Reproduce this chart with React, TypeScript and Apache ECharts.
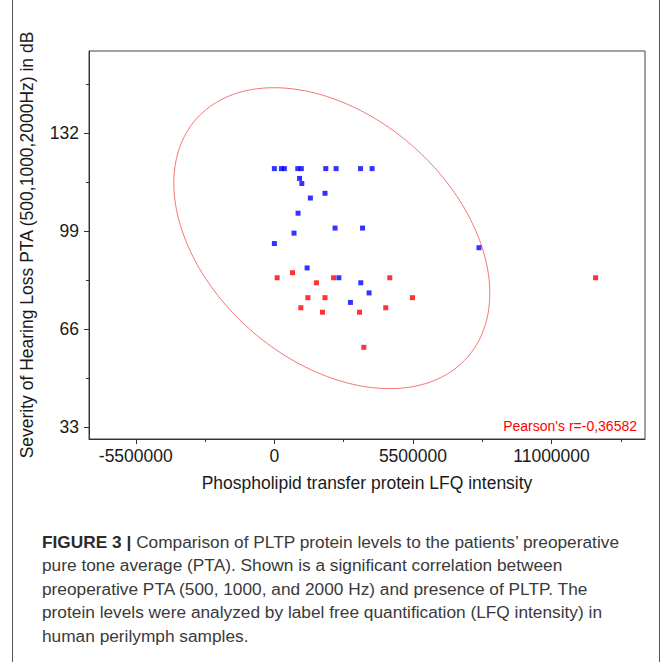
import { useEffect, useRef } from "react";
import * as echarts from "echarts";

// Axis ticks / labels
const xTickValues = [-5500000, 0, 5500000, 11000000];
const xMinorTickValues = [-2750000, 2750000, 8250000, 13750000];
const yTickValues = [33, 66, 99, 132];
const yMinorTickValues = [49.5, 82.5, 115.5, 148.5];
const xRange = [-7357000, 14710000];
const yRange = [29.07, 159.55];

// Blue group (LFQ intensity, PTA dB)
const blueX = [0, 280000, 400000, 930000, 1070000, 2040000, 2450000, 3420000, 3880000,
  1000000, 1090000, 2010000, 1430000, 940000, 2410000, 3500000, 780000, 0, 8120000,
  1300000, 2560000, 3430000, 3760000, 3020000];
const blueY = [120, 120, 120, 120, 120, 120, 120, 120, 120,
  116.7, 115, 111.7, 110.1, 105, 100, 100, 98.3, 94.8, 93.4,
  86.6, 83.3, 81.6, 78.2, 75];

// Red group
const redX = [110000, 720000, 1670000, 2350000, 4580000, 1330000, 2010000, 5480000,
  1050000, 1910000, 3380000, 4420000, 3550000, 12750000];
const redY = [83.3, 85, 81.6, 83.3, 83.3, 76.6, 76.6, 76.6,
  73.2, 71.7, 71.7, 73.2, 59.9, 83.3];

// Confidence ellipse parameters (centre, spread, correlation)
const ellipseCenter = [2280000, 96.6];
const ellipseSpread = [6270000, 50.6];
const pearsonR = -0.36582;
const pearsonText = "Pearson's r=-0,36582";

const xAxisTitle = "Phospholipid transfer protein LFQ intensity";
const yAxisTitle = "Severity of Hearing Loss PTA (500,1000,2000Hz) in dB";

const captionLines = [
  "{b|FIGURE 3 |} Comparison of PLTP protein levels to the patients\u2019 preoperative",
  "pure tone average (PTA). Shown is a significant correlation between",
  "preoperative PTA (500, 1000, and 2000 Hz) and presence of PLTP. The",
  "protein levels were analyzed by label free quantification (LFQ intensity) in",
  "human perilymph samples.",
];

const FONT = "'Liberation Sans', Arial, sans-serif";

export default function App() {
  const ref = useRef<HTMLDivElement>(null);
  useEffect(() => {
    if (!ref.current) return;
    const chart = echarts.init(ref.current, null, { renderer: "svg" });
    const blueData = blueX.map((x, i) => [x, blueY[i]]);
    const redData = redX.map((x, i) => [x, redY[i]]);
    const axisColor = "#333";
    const option: any = {
      animation: false,
      backgroundColor: "#fff",
      textStyle: { fontFamily: FONT },
      grid: {
        left: 89, right: 27, top: 51, bottom: 223,
        show: true, borderColor: "#444", borderWidth: 1,
      },
      xAxis: [
        {
          type: "value", min: xRange[0], max: xRange[1],
          splitLine: { show: false },
          axisLine: { onZero: false, lineStyle: { color: axisColor } },
          axisTick: { show: true, inside: false, length: 5, customValues: xTickValues, lineStyle: { color: axisColor } },
          axisLabel: { customValues: xTickValues, color: "#1a1a1a", fontSize: 17.5, fontFamily: FONT, margin: 8, formatter: (v: number) => String(v) },
          name: xAxisTitle, nameLocation: "middle", nameGap: 35,
          nameTextStyle: { fontSize: 17.5, color: "#1a1a1a", fontFamily: FONT },
        },
        {
          type: "value", min: xRange[0], max: xRange[1], position: "bottom",
          splitLine: { show: false }, axisLine: { show: false, onZero: false },
          axisTick: { show: true, length: 3, customValues: xMinorTickValues, lineStyle: { color: axisColor } },
          axisLabel: { show: false },
        },
      ],
      yAxis: [
        {
          type: "value", min: yRange[0], max: yRange[1],
          splitLine: { show: false },
          axisLine: { onZero: false, lineStyle: { color: axisColor } },
          axisTick: { show: true, length: 5, customValues: yTickValues, lineStyle: { color: axisColor } },
          axisLabel: { customValues: yTickValues, color: "#1a1a1a", fontSize: 17.5, fontFamily: FONT, margin: 10 },
          name: yAxisTitle, nameLocation: "middle", nameGap: 53,
          nameTextStyle: { fontSize: 17.5, color: "#1a1a1a", fontFamily: FONT },
        },
        {
          type: "value", min: yRange[0], max: yRange[1], position: "left",
          splitLine: { show: false }, axisLine: { show: false, onZero: false },
          axisTick: { show: true, length: 3, customValues: yMinorTickValues, lineStyle: { color: axisColor } },
          axisLabel: { show: false },
        },
      ],
      series: [
        {
          type: "custom",
          xAxisIndex: 0, yAxisIndex: 0,
          silent: true,
          data: [ellipseCenter],
          renderItem: (_params: any, api: any) => {
            const [cx, cy] = ellipseCenter;
            const [sx, sy] = ellipseSpread;
            const r = pearsonR;
            const pts: number[][] = [];
            const n = 240;
            for (let i = 0; i <= n; i++) {
              const t = (i / n) * Math.PI * 2;
              const x = cx + sx * Math.cos(t);
              const y = cy + sy * (r * Math.cos(t) + Math.sqrt(1 - r * r) * Math.sin(t));
              pts.push(api.coord([x, y]));
            }
            return {
              type: "polygon",
              shape: { points: pts },
              style: { fill: "none", stroke: "#f47474", lineWidth: 1 },
            };
          },
          z: 1,
        },
        {
          type: "scatter", xAxisIndex: 0, yAxisIndex: 0,
          symbol: "rect", symbolSize: 5,
          itemStyle: { color: "#ff0000" },
          data: redData, z: 2,
        },
        {
          type: "scatter", xAxisIndex: 0, yAxisIndex: 0,
          symbol: "rect", symbolSize: 5,
          itemStyle: { color: "#0000ff" },
          data: blueData, z: 3,
        },
      ],
      graphic: [
        {
          type: "text", x: 637, y: 426, z: 10,
          style: { text: pearsonText, fill: "#ff0000", font: `14px ${FONT}`, align: "right", verticalAlign: "middle" },
        },
        { type: "line", shape: { x1: 12.5, y1: 0, x2: 12.5, y2: 662 }, style: { stroke: "#555", lineWidth: 1 } },
        { type: "line", shape: { x1: 659.5, y1: 0, x2: 659.5, y2: 662 }, style: { stroke: "#555", lineWidth: 1 } },
        ...captionLines.map((line, i) => ({
          type: "text",
          x: 42,
          y: 542 + i * 23.4,
          style: {
            text: line,
            fill: "#3a3a3a",
            font: `17.3px ${FONT}`,
            verticalAlign: "middle",
            rich: { b: { fontWeight: "bold", fontSize: 17.3, fontFamily: FONT, fill: "#2a2a2a" } },
          },
        })),
      ],
    };
    chart.setOption(option);
    return () => chart.dispose();
  }, []);
  return (
    <div
      ref={ref}
      style={{ position: "fixed", left: 0, top: 0, width: 672, height: 662, background: "#fff" }}
    />
  );
}
